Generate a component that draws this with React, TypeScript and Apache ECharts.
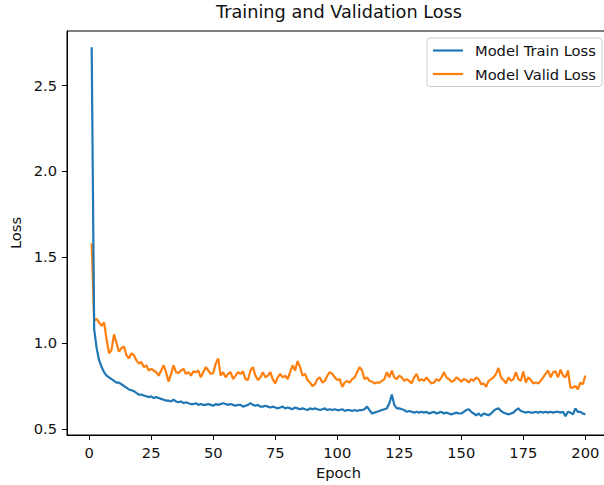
import React, { useEffect, useRef } from "react";
import * as echarts from "echarts";

const title = "Training and Validation Loss";
const xName = "Epoch";
const yName = "Loss";
const trainName = "Model Train Loss";
const validName = "Model Valid Loss";

const xTicks = [0, 25, 50, 75, 100, 125, 150, 175, 200];
const yTicks = [0.5, 1.0, 1.5, 2.0, 2.5];

const trainLoss = [
  2.72, 1.08, 0.97, 0.9, 0.86, 0.83, 0.81, 0.8, 0.79, 0.78,
  0.77, 0.77, 0.76, 0.75, 0.74, 0.73, 0.725, 0.72, 0.71, 0.7,
  0.7, 0.695, 0.69, 0.685, 0.69, 0.68, 0.685, 0.68, 0.675, 0.67,
  0.665, 0.665, 0.66, 0.67, 0.66, 0.655, 0.66, 0.65, 0.655, 0.65,
  0.645, 0.645, 0.65, 0.64, 0.645, 0.64, 0.64, 0.645, 0.64, 0.635,
  0.645, 0.64, 0.645, 0.65, 0.645, 0.64, 0.645, 0.64, 0.635, 0.64,
  0.64, 0.63, 0.635, 0.64, 0.65, 0.64, 0.635, 0.64, 0.63, 0.63,
  0.635, 0.63, 0.625, 0.63, 0.625, 0.62, 0.625, 0.63, 0.62, 0.625,
  0.62, 0.615, 0.625, 0.62, 0.615, 0.62, 0.615, 0.61, 0.62, 0.615,
  0.62, 0.615, 0.61, 0.615, 0.62, 0.61, 0.615, 0.61, 0.615, 0.61,
  0.61, 0.615, 0.605, 0.61, 0.61, 0.605, 0.61, 0.605, 0.61, 0.61,
  0.615, 0.63, 0.61, 0.59, 0.595, 0.6, 0.605, 0.61, 0.615, 0.62,
  0.65, 0.7, 0.64, 0.62, 0.62, 0.615, 0.61, 0.6, 0.605, 0.6,
  0.595, 0.6, 0.595, 0.6, 0.595, 0.6, 0.59, 0.595, 0.6, 0.59,
  0.595, 0.6, 0.59, 0.595, 0.59, 0.585, 0.59, 0.595, 0.59, 0.59,
  0.6, 0.61, 0.615, 0.6, 0.59, 0.58, 0.59, 0.575, 0.59, 0.585,
  0.58, 0.59, 0.605, 0.615, 0.62, 0.605, 0.595, 0.59, 0.585, 0.59,
  0.595, 0.61, 0.62, 0.605, 0.6, 0.595, 0.6, 0.595, 0.595, 0.6,
  0.595, 0.6, 0.595, 0.6, 0.595, 0.6, 0.595, 0.6, 0.6, 0.595,
  0.6, 0.575, 0.6, 0.595, 0.585, 0.62, 0.6, 0.6, 0.59, 0.585,
];

const validLoss = [
  1.58, 1.13, 1.14, 1.12, 1.1, 1.12, 1.02, 0.94, 0.96, 1.05,
  1.0, 0.95, 0.97, 0.98, 0.93, 0.91, 0.94, 0.93, 0.9, 0.88,
  0.89, 0.86, 0.87, 0.84, 0.85, 0.84, 0.83, 0.81, 0.84, 0.87,
  0.83, 0.775, 0.82, 0.87, 0.83, 0.825, 0.84, 0.85, 0.82, 0.83,
  0.81, 0.835, 0.83, 0.84, 0.8, 0.83, 0.86, 0.84, 0.82, 0.825,
  0.88, 0.91, 0.81, 0.83, 0.8, 0.82, 0.83, 0.79, 0.81, 0.83,
  0.82, 0.835, 0.79, 0.785, 0.84, 0.86, 0.81, 0.785, 0.8, 0.83,
  0.8, 0.81, 0.83, 0.79, 0.765, 0.8, 0.82, 0.8, 0.81, 0.79,
  0.83, 0.87, 0.84, 0.895, 0.86, 0.81, 0.82, 0.785, 0.77, 0.75,
  0.76, 0.79, 0.8, 0.77, 0.78, 0.81, 0.83, 0.82, 0.8, 0.785,
  0.79, 0.745, 0.77, 0.78, 0.77, 0.79, 0.8, 0.83, 0.86, 0.84,
  0.79, 0.8, 0.78, 0.775, 0.765, 0.77, 0.77, 0.78, 0.79, 0.83,
  0.8, 0.84, 0.8, 0.79, 0.81, 0.8, 0.78, 0.79, 0.78, 0.765,
  0.8, 0.82, 0.78, 0.79, 0.78, 0.8, 0.78, 0.765, 0.77, 0.79,
  0.78, 0.8, 0.83, 0.8, 0.79, 0.775, 0.78, 0.8, 0.79, 0.775,
  0.79, 0.785, 0.77, 0.79, 0.78, 0.8, 0.79, 0.76, 0.765, 0.745,
  0.78, 0.79, 0.8, 0.82, 0.855, 0.8, 0.785, 0.765, 0.8, 0.78,
  0.79, 0.83, 0.79, 0.78, 0.835, 0.77, 0.8, 0.785, 0.765, 0.77,
  0.765, 0.78, 0.8, 0.82, 0.84, 0.8, 0.83, 0.835, 0.8, 0.845,
  0.81, 0.8, 0.84, 0.74, 0.74, 0.75, 0.73, 0.77, 0.76, 0.81,
];

const FONT = "DejaVu Sans";

export default function App() {
  const ref = useRef<HTMLDivElement>(null);

  useEffect(() => {
    if (!ref.current) return;
    const chart = echarts.init(ref.current, undefined, { renderer: "svg" });
    const trainData = trainLoss.map((v, i) => [i + 1, v]);
    const validData = validLoss.map((v, i) => [i + 1, v]);

    chart.setOption({
      animation: false,
      backgroundColor: "#ffffff",
      title: {
        text: title,
        left: 339,
        top: 3,
        textAlign: "center",
        padding: 0,
        textStyle: {
          fontFamily: FONT,
          fontSize: 17.7,
          fontWeight: "normal",
          color: "#111",
        },
      },
      legend: {
        orient: "vertical",
        right: 2,
        top: 38,
        padding: [5, 6, 5, 6],
        itemGap: 8.5,
        itemWidth: 30,
        itemHeight: 2.2,
        icon: "rect",
        backgroundColor: "rgba(255,255,255,0.8)",
        borderColor: "#cccccc",
        borderWidth: 1,
        borderRadius: 3,
        textStyle: {
          fontFamily: FONT,
          fontSize: 14.7,
          color: "#111",
          padding: [0, 0, 0, 7],
        },
        data: [trainName, validName],
      },
      grid: {
        left: 67,
        top: 31,
        width: 543,
        height: 404,
        show: true,
        borderColor: "#000",
        borderWidth: 1,
        backgroundColor: "transparent",
        containLabel: false,
        outerBoundsMode: "none",
      },
      xAxis: {
        type: "value",
        min: -8.95,
        max: 209.95,
        name: xName,
        nameLocation: "middle",
        nameGap: 29,
        nameTextStyle: { fontFamily: FONT, fontSize: 14.7, color: "#111" },
        axisLine: { show: true, onZero: false, lineStyle: { color: "#000", width: 1 } },
        axisTick: {
          show: true,
          length: 5,
          lineStyle: { color: "#000", width: 1 },
          customValues: xTicks,
        },
        axisLabel: {
          margin: 10,
          fontFamily: FONT,
          fontSize: 14.7,
          color: "#111",
          customValues: xTicks,
          formatter: (v: number) => String(Math.round(v)),
        },
        splitLine: { show: false },
      },
      yAxis: {
        type: "value",
        min: 0.465,
        max: 2.814,
        name: yName,
        nameLocation: "middle",
        nameGap: 42,
        nameRotate: 90,
        nameTextStyle: { fontFamily: FONT, fontSize: 14.7, color: "#111" },
        axisLine: { show: true, onZero: false, lineStyle: { color: "#000", width: 1 } },
        axisTick: {
          show: true,
          length: 5,
          lineStyle: { color: "#000", width: 1 },
          customValues: yTicks,
        },
        axisLabel: {
          margin: 10,
          fontFamily: FONT,
          fontSize: 14.7,
          color: "#111",
          customValues: yTicks,
          formatter: (v: number) => v.toFixed(1),
        },
        splitLine: { show: false },
      },
      series: [
        {
          name: trainName,
          type: "line",
          data: trainData,
          showSymbol: false,
          symbol: "none",
          lineStyle: { color: "#1f77b4", width: 2.2 },
          itemStyle: { color: "#1f77b4" },
          z: 3,
        },
        {
          name: validName,
          type: "line",
          data: validData,
          showSymbol: false,
          symbol: "none",
          lineStyle: { color: "#ff7f0e", width: 2.2 },
          itemStyle: { color: "#ff7f0e" },
          z: 2,
        },
      ],
    });

    return () => {
      chart.dispose();
    };
  }, []);

  return (
    <div
      ref={ref}
      style={{ position: "fixed", left: 0, top: 0, width: 604, height: 485 }}
    />
  );
}
